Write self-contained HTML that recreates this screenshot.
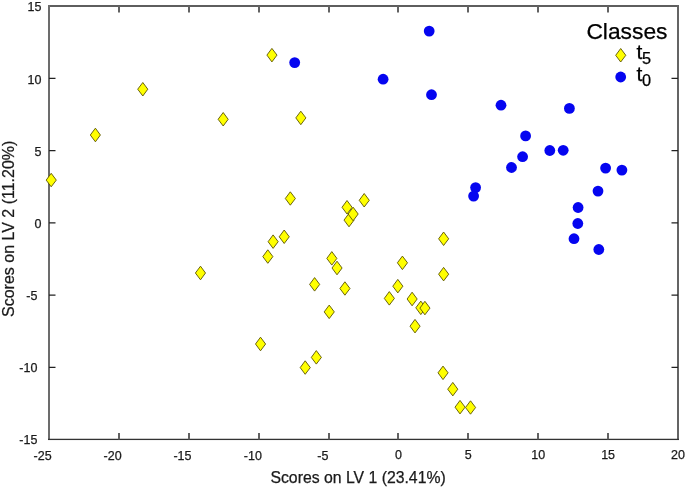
<!DOCTYPE html>
<html><head><meta charset="utf-8"><title>Scores plot</title>
<style>
html,body{margin:0;padding:0;background:#fff;}
body{width:685px;height:488px;overflow:hidden;}
svg{display:block;}
text{font-family:"Liberation Sans",Arial,Helvetica,sans-serif;fill:#1a1a1a;stroke:#1a1a1a;stroke-width:0.25px;}
.tk{font-size:12.5px;}
.ax{font-size:15.8px;}
.d{fill:#ffff00;stroke:#5a5200;stroke-width:0.9;}
.c{fill:#0505f0;}
</style></head><body>
<svg width="685" height="488" viewBox="0 0 685 488">
<rect width="685" height="488" fill="#fff"/>
<g shape-rendering="crispEdges">
<rect x="48" y="5" width="631" height="2" fill="#5e5e5e"/>
<rect x="48" y="5" width="2" height="435" fill="#6c6c6c"/>
<rect x="677" y="5" width="2" height="435" fill="#646464"/>
</g>
<rect x="48" y="438.75" width="631" height="1.3" fill="#333"/>
<rect x="118" y="433" width="2" height="6.4" fill="#626262"/><rect x="118" y="6" width="2" height="6.5" fill="#626262"/><rect x="188" y="433" width="2" height="6.4" fill="#626262"/><rect x="188" y="6" width="2" height="6.5" fill="#626262"/><rect x="258" y="433" width="2" height="6.4" fill="#626262"/><rect x="258" y="6" width="2" height="6.5" fill="#626262"/><rect x="328" y="433" width="2" height="6.4" fill="#626262"/><rect x="328" y="6" width="2" height="6.5" fill="#626262"/><rect x="397" y="433" width="2" height="6.4" fill="#626262"/><rect x="397" y="6" width="2" height="6.5" fill="#626262"/><rect x="467" y="433" width="2" height="6.4" fill="#626262"/><rect x="467" y="6" width="2" height="6.5" fill="#626262"/><rect x="537" y="433" width="2" height="6.4" fill="#626262"/><rect x="537" y="6" width="2" height="6.5" fill="#626262"/><rect x="607" y="433" width="2" height="6.4" fill="#626262"/><rect x="607" y="6" width="2" height="6.5" fill="#626262"/>
<path d="M49.0 78.43h6.5M678.0 78.43h-6.5M49.0 150.67h6.5M678.0 150.67h-6.5M49.0 222.90h6.5M678.0 222.90h-6.5M49.0 295.13h6.5M678.0 295.13h-6.5M49.0 367.37h6.5M678.0 367.37h-6.5" stroke="#222" stroke-width="1.2" fill="none"/>
<text class="tk" x="51.7" y="459.6" text-anchor="end">-25</text>
<text class="tk" x="121.7" y="459.6" text-anchor="end">-20</text>
<text class="tk" x="191.5" y="459.6" text-anchor="end">-15</text>
<text class="tk" x="261.9" y="459.6" text-anchor="end">-10</text>
<text class="tk" x="328.4" y="459.6" text-anchor="end">-5</text>
<text class="tk" x="398.4" y="459.3" text-anchor="middle">0</text>
<text class="tk" x="468.3" y="459.3" text-anchor="middle">5</text>
<text class="tk" x="538.2" y="459.3" text-anchor="middle">10</text>
<text class="tk" x="608.1" y="459.3" text-anchor="middle">15</text>
<text class="tk" x="678.0" y="459.3" text-anchor="middle">20</text>
<text class="tk" x="41.4" y="11.3" text-anchor="end">15</text>
<text class="tk" x="41.4" y="83.5" text-anchor="end">10</text>
<text class="tk" x="41.4" y="155.8" text-anchor="end">5</text>
<text class="tk" x="41.4" y="228.0" text-anchor="end">0</text>
<text class="tk" x="37.4" y="299.6" text-anchor="end">-5</text>
<text class="tk" x="37.4" y="371.9" text-anchor="end">-10</text>
<text class="tk" x="37.4" y="444.1" text-anchor="end">-15</text>
<text class="ax" x="358.1" y="482.6" text-anchor="middle">Scores on LV 1 (23.41%)</text>
<text class="ax" style="font-size:16px" transform="translate(14 228.8) rotate(-90)" text-anchor="middle">Scores on LV 2 (11.20%)</text>
<path class="d" d="M51.2 173.3L56.3 180.1L51.2 186.8L46.2 180.1Z"/>
<path class="d" d="M95.4 128.2L100.4 135.0L95.4 141.8L90.3 135.0Z"/>
<path class="d" d="M142.8 82.5L147.8 89.2L142.8 96.0L137.7 89.2Z"/>
<path class="d" d="M223.2 112.5L228.2 119.3L223.2 126.0L218.1 119.3Z"/>
<path class="d" d="M200.5 266.2L205.5 273.0L200.5 279.8L195.4 273.0Z"/>
<path class="d" d="M271.9 48.4L277.0 55.1L271.9 61.9L266.9 55.1Z"/>
<path class="d" d="M300.8 111.2L305.9 117.9L300.8 124.7L295.8 117.9Z"/>
<path class="d" d="M290.3 191.8L295.4 198.5L290.3 205.2L285.3 198.5Z"/>
<path class="d" d="M364.2 193.5L369.3 200.3L364.2 207.0L359.2 200.3Z"/>
<path class="d" d="M347.0 200.5L352.1 207.3L347.0 214.0L342.0 207.3Z"/>
<path class="d" d="M349.0 213.3L354.1 220.1L349.0 226.8L344.0 220.1Z"/>
<path class="d" d="M353.1 207.2L358.2 214.0L353.1 220.8L348.1 214.0Z"/>
<path class="d" d="M284.2 230.0L289.3 236.8L284.2 243.5L279.2 236.8Z"/>
<path class="d" d="M273.1 234.9L278.2 241.7L273.1 248.4L268.1 241.7Z"/>
<path class="d" d="M267.8 249.8L272.9 256.6L267.8 263.3L262.8 256.6Z"/>
<path class="d" d="M331.8 251.6L336.9 258.4L331.8 265.1L326.8 258.4Z"/>
<path class="d" d="M337.0 261.2L342.1 268.0L337.0 274.8L332.0 268.0Z"/>
<path class="d" d="M402.4 256.1L407.5 262.8L402.4 269.6L397.4 262.8Z"/>
<path class="d" d="M443.6 232.0L448.7 238.8L443.6 245.5L438.6 238.8Z"/>
<path class="d" d="M443.6 267.4L448.7 274.2L443.6 280.9L438.6 274.2Z"/>
<path class="d" d="M314.6 277.6L319.7 284.4L314.6 291.1L309.6 284.4Z"/>
<path class="d" d="M344.9 281.8L350.0 288.5L344.9 295.2L339.9 288.5Z"/>
<path class="d" d="M397.8 279.4L402.9 286.2L397.8 292.9L392.8 286.2Z"/>
<path class="d" d="M389.3 291.6L394.4 298.4L389.3 305.1L384.3 298.4Z"/>
<path class="d" d="M412.1 292.2L417.2 299.0L412.1 305.8L407.1 299.0Z"/>
<path class="d" d="M420.8 301.1L425.9 307.8L420.8 314.6L415.8 307.8Z"/>
<path class="d" d="M424.9 301.3L430.0 308.1L424.9 314.8L419.9 308.1Z"/>
<path class="d" d="M415.0 319.4L420.1 326.2L415.0 332.9L410.0 326.2Z"/>
<path class="d" d="M329.2 305.1L334.3 311.9L329.2 318.6L324.2 311.9Z"/>
<path class="d" d="M260.5 337.2L265.6 344.0L260.5 350.8L255.5 344.0Z"/>
<path class="d" d="M316.3 350.6L321.4 357.4L316.3 364.1L311.3 357.4Z"/>
<path class="d" d="M305.2 360.8L310.3 367.6L305.2 374.3L300.2 367.6Z"/>
<path class="d" d="M443.0 366.1L448.1 372.8L443.0 379.6L438.0 372.8Z"/>
<path class="d" d="M452.8 382.4L457.8 389.2L452.8 395.9L447.7 389.2Z"/>
<path class="d" d="M460.0 400.4L465.1 407.2L460.0 413.9L455.0 407.2Z"/>
<path class="d" d="M470.5 400.8L475.6 407.5L470.5 414.2L465.5 407.5Z"/>
<circle class="c" cx="294.7" cy="62.6" r="5.4"/>
<circle class="c" cx="383.1" cy="79.2" r="5.4"/>
<circle class="c" cx="429.2" cy="31.1" r="5.4"/>
<circle class="c" cx="431.5" cy="94.7" r="5.4"/>
<circle class="c" cx="501.0" cy="105.2" r="5.4"/>
<circle class="c" cx="569.4" cy="108.4" r="5.4"/>
<circle class="c" cx="525.6" cy="135.9" r="5.4"/>
<circle class="c" cx="549.8" cy="150.5" r="5.4"/>
<circle class="c" cx="563.2" cy="150.3" r="5.4"/>
<circle class="c" cx="522.6" cy="156.7" r="5.4"/>
<circle class="c" cx="511.5" cy="167.5" r="5.4"/>
<circle class="c" cx="605.6" cy="168.1" r="5.4"/>
<circle class="c" cx="621.9" cy="170.1" r="5.4"/>
<circle class="c" cx="475.6" cy="187.6" r="5.4"/>
<circle class="c" cx="473.6" cy="196.1" r="5.4"/>
<circle class="c" cx="598.0" cy="191.1" r="5.4"/>
<circle class="c" cx="578.1" cy="207.5" r="5.4"/>
<circle class="c" cx="577.8" cy="223.5" r="5.4"/>
<circle class="c" cx="574.0" cy="238.7" r="5.4"/>
<circle class="c" cx="598.8" cy="249.5" r="5.4"/>
<text x="586.4" y="38.5" style="font-size:22.8px;fill:#000;stroke:#000">Classes</text>
<path class="d" d="M620.7 48.5L625.8 55.3L620.7 62.0L615.7 55.3Z"/>
<circle class="c" cx="620.7" cy="77" r="5.4"/>
<text x="636.5" y="58.5" style="font-size:21px;fill:#000;stroke:#000">t<tspan dy="5.7" dx="-0.3" style="font-size:16.3px">5</tspan></text>
<text x="636.5" y="80.5" style="font-size:21px;fill:#000;stroke:#000">t<tspan dy="5.7" dx="-0.3" style="font-size:16.3px">0</tspan></text>
</svg></body></html>
